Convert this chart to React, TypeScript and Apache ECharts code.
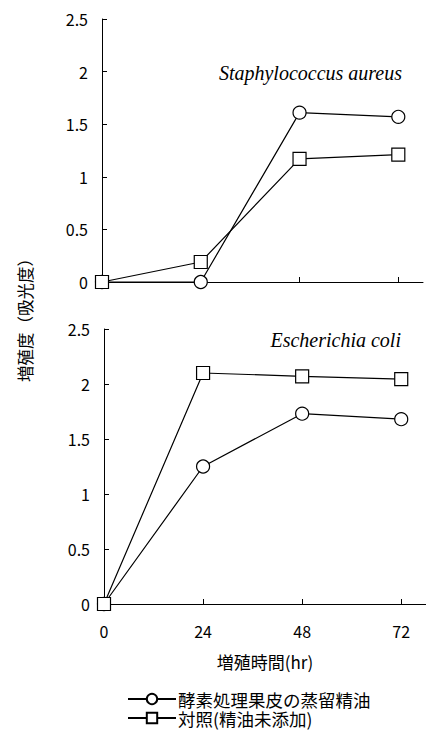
import React, { useEffect, useRef } from "react";
import * as echarts from "echarts";

const hours = [0, 24, 48, 72];
const staphEnzyme = [0, 0, 1.61, 1.57];
const staphControl = [0, 0.19, 1.17, 1.21];
const ecoliEnzyme = [0, 1.25, 1.73, 1.68];
const ecoliControl = [0, 2.1, 2.07, 2.045];
const seriesNames = ["酵素処理果皮の蒸留精油", "対照(精油未添加)"];
const panelTitles = ["Staphylococcus aureus", "Escherichia coli"];
const xTicks = [24, 48, 72];
const xLabels = [0, 24, 48, 72];

const pairs = (vals: number[]) => hours.map((h, i) => [h, vals[i]]);

const FONT = "'Noto Sans CJK JP', 'Liberation Sans', sans-serif";

export default function App() {
  const ref = useRef<HTMLDivElement>(null);
  useEffect(() => {
    if (!ref.current) return;
    const chart = echarts.init(ref.current, null, { renderer: "svg" });
    const axisLine = { show: true, lineStyle: { color: "#000", width: 1 } };
    const mkX = (idx: number, showLabels: boolean) => ({
      type: "value",
      gridIndex: idx,
      min: 0,
      max: 78,
      interval: 24,
      axisLine,
      splitLine: { show: false },
      axisTick: {
        show: true,
        inside: true,
        length: 5,
        lineStyle: { color: "#000" },
        customValues: xTicks,
      },
      axisLabel: {
        show: showLabels,
        customValues: xLabels,
        color: "#000",
        fontSize: 16,
        fontFamily: FONT,
        margin: 19,
      },
    });
    const mkY = (idx: number) => ({
      type: "value",
      gridIndex: idx,
      min: 0,
      max: 2.5,
      interval: 0.5,
      axisLine,
      splitLine: { show: false },
      axisTick: { show: true, inside: true, length: 5, lineStyle: { color: "#000" } },
      axisLabel: { color: "#000", fontSize: 16, fontFamily: FONT, margin: 14 },
    });
    const mkSeries = (name: string, vals: number[], idx: number, symbol: string) => ({
      type: "line",
      name,
      xAxisIndex: idx,
      yAxisIndex: idx,
      data: pairs(vals),
      symbol,
      symbolSize: 13,
      showAllSymbol: true,
      lineStyle: { color: "#000", width: 1.2 },
      itemStyle: { color: "#fff", borderColor: "#000", borderWidth: 1.2 },
      z: symbol === "rect" ? 3 : 2,
    });
    chart.setOption({
      animation: false,
      backgroundColor: "#fff",
      grid: [
        { left: 102, top: 19, width: 321, height: 263 },
        { left: 104, top: 329, width: 322, height: 275 },
      ],
      xAxis: [
        mkX(0, false),
        {
          ...mkX(1, true),
          name: "増殖時間(hr)",
          nameLocation: "middle",
          nameGap: 49,
          nameTextStyle: { color: "#000", fontSize: 17, fontFamily: FONT },
        },
      ],
      yAxis: [mkY(0), mkY(1)],
      legend: {
        orient: "vertical",
        left: 127,
        top: 690,
        padding: 0,
        itemWidth: 48,
        itemHeight: 13,
        itemGap: 1,
        data: seriesNames,
        textStyle: {
          color: "#000",
          fontSize: 17.5,
          lineHeight: 18,
          fontFamily: FONT,
          padding: [0, 0, 0, -3],
        },
      },
      graphic: [
        {
          type: "text",
          x: 402,
          y: 73,
          style: {
            text: panelTitles[0],
            align: "right",
            verticalAlign: "middle",
            font: "italic 20px 'Liberation Serif', serif",
            fill: "#000",
          },
        },
        {
          type: "text",
          x: 401,
          y: 340,
          style: {
            text: panelTitles[1],
            align: "right",
            verticalAlign: "middle",
            font: "italic 20px 'Liberation Serif', serif",
            fill: "#000",
          },
        },
        {
          type: "text",
          x: 25,
          y: 316,
          rotation: Math.PI / 2,
          style: {
            text: "増殖度（吸光度）",
            align: "center",
            verticalAlign: "middle",
            font: "16.5px 'Noto Sans CJK JP', sans-serif",
            fill: "#000",
          },
        },
      ],
      series: [
        mkSeries(seriesNames[0], staphEnzyme, 0, "circle"),
        mkSeries(seriesNames[1], staphControl, 0, "rect"),
        mkSeries(seriesNames[0], ecoliEnzyme, 1, "circle"),
        mkSeries(seriesNames[1], ecoliControl, 1, "rect"),
      ],
    });
    return () => chart.dispose();
  }, []);
  return (
    <div
      ref={ref}
      style={{ position: "fixed", left: 0, top: 0, width: 426, height: 731, background: "#fff" }}
    />
  );
}
